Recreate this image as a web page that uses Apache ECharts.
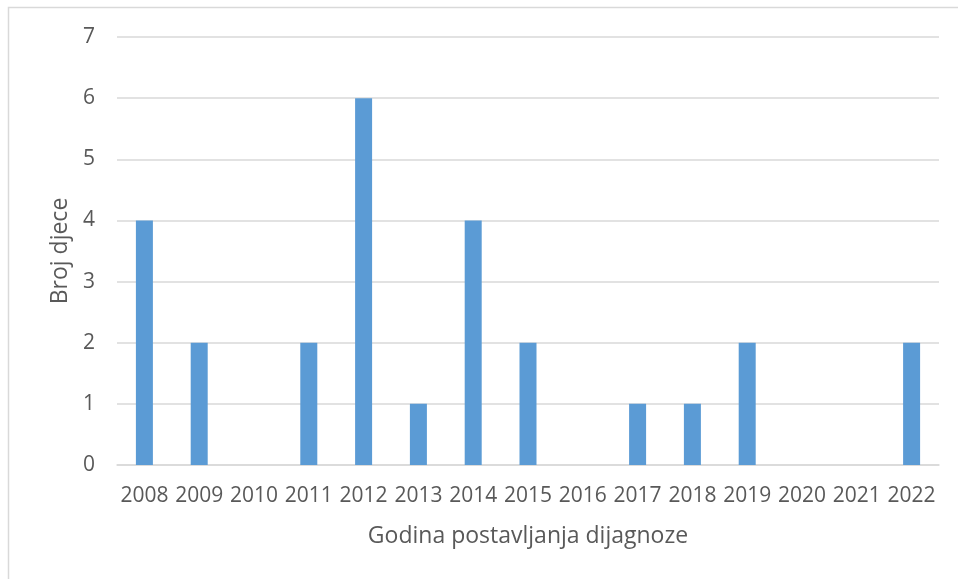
<!DOCTYPE html>
<html><head><meta charset="utf-8">
<script src="https://cdn.jsdelivr.net/npm/echarts@6/dist/echarts.min.js"></script>
<style>html,body{margin:0;padding:0;background:#fff}#c{width:958px;height:579px}</style>
</head><body><div id="c"></div>
<script>
var years = ['2008','2009','2010','2011','2012','2013','2014','2015','2016','2017','2018','2019','2020','2021','2022'];
var counts = [4,2,0,2,6,1,4,2,0,1,1,2,0,0,2];
var xTitle = 'Godina postavljanja dijagnoze';
var yTitle = 'Broj djece';
var font = 'Open Sans';
var chart = echarts.init(document.getElementById('c'));
chart.setOption({
  animation:false,
  backgroundColor:'#fff',
  graphic:[{type:'rect',shape:{x:8.5,y:7.5,width:2000,height:2000},style:{fill:'none',stroke:'#d9d9d9',lineWidth:1.5},silent:true}],
  grid:{left:117,right:19,top:37,bottom:114},
  xAxis:{type:'category',data:years,
    axisLine:{lineStyle:{color:'#d9d9d9',width:1.5}},axisTick:{show:false},
    axisLabel:{color:'#595959',fontFamily:font,fontSize:21,margin:21,interval:0},
    name:xTitle,nameLocation:'middle',nameGap:60,
    nameTextStyle:{color:'#595959',fontFamily:font,fontSize:23}},
  yAxis:{type:'value',min:0,max:7,interval:1,
    axisLine:{show:false},axisTick:{show:false},
    splitLine:{lineStyle:{color:'#d9d9d9',width:1.5}},
    axisLabel:{color:'#595959',fontFamily:font,fontSize:21,margin:22},
    name:yTitle,nameLocation:'middle',nameGap:44,nameRotate:90,
    nameTextStyle:{color:'#595959',fontFamily:font,fontSize:23}},
  series:[{type:'bar',data:counts,barWidth:17,itemStyle:{color:'#5b9bd5'}}]
});
</script></body></html>
